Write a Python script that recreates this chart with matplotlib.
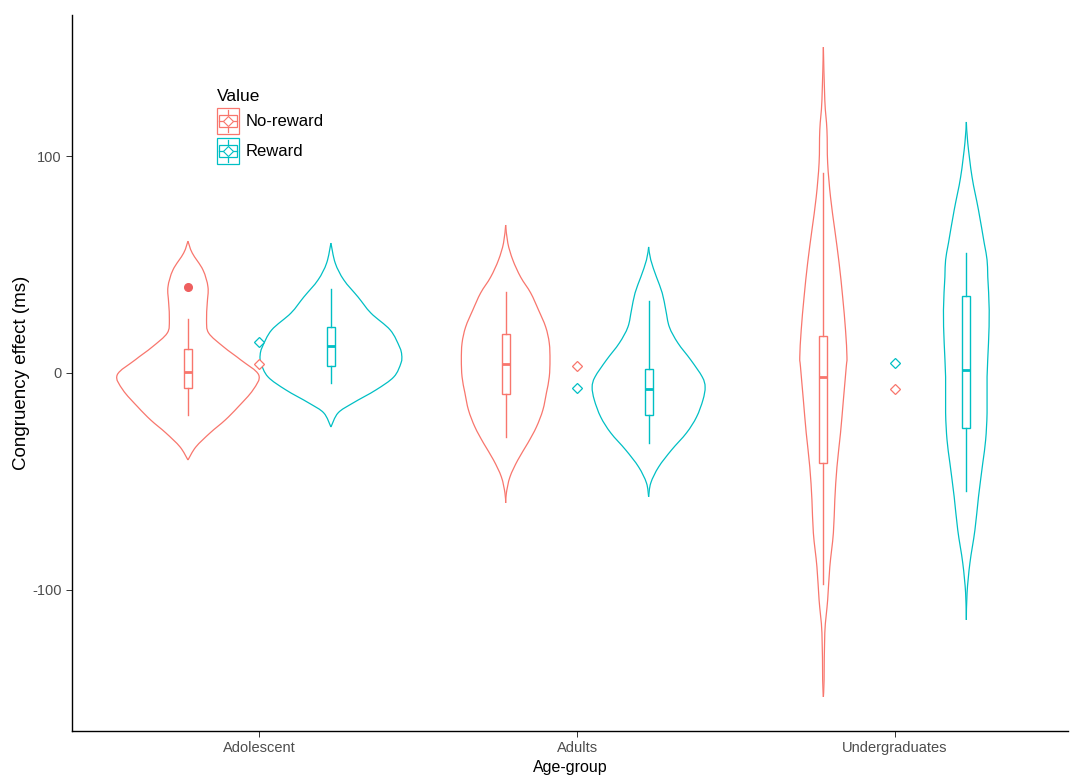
import matplotlib
matplotlib.use("Agg")
import matplotlib.pyplot as plt
import numpy as np
from matplotlib.patches import Rectangle, Patch, PathPatch
from matplotlib.path import Path
from matplotlib.lines import Line2D
from matplotlib.legend_handler import HandlerBase

plt.rcParams['font.family'] = ['Liberation Sans', 'DejaVu Sans']

groups = ["Adolescent", "Adults", "Undergraduates"]
values = ["No-reward", "Reward"]
colors = {"No-reward": "#F8766D", "Reward": "#00BFC4"}

# violin outlines: congruency effect (ms) and relative density at that level
adol_nr_y = [60.8, 55.3, 47.5, 39.6, 32.3, 24.4, 18.4, 12.0, 6.0, -0.9, -7.8, -15.7, -21.7, -27.6, -34.1, -40.1]
adol_nr_d = [0.0, 0.06, 0.21, 0.28, 0.27, 0.26, 0.29, 0.50, 0.74, 0.99, 0.91, 0.70, 0.52, 0.31, 0.11, 0.0]
adol_r_y = [59.9, 50.7, 42.9, 35.0, 27.6, 19.8, 12.0, 8.3, 4.6, -1.8, -7.8, -13.8, -18.4, -24.9]
adol_r_d = [0.0, 0.06, 0.18, 0.38, 0.56, 0.83, 0.96, 0.99, 0.98, 0.88, 0.63, 0.31, 0.10, 0.0]
adu_nr_y = [68.2, 59.9, 52.1, 44.2, 36.9, 29.0, 21.2, 13.8, 6.0, -1.8, -9.2, -17.1, -24.9, -32.3, -40.1, -47.9, -55.3, -59.9]
adu_nr_d = [0.0, 0.03, 0.10, 0.21, 0.35, 0.46, 0.56, 0.61, 0.62, 0.61, 0.57, 0.52, 0.43, 0.31, 0.17, 0.06, 0.01, 0.0]
adu_r_y = [58.1, 52.1, 44.2, 36.9, 29.0, 21.2, 13.8, 6.0, -1.8, -6.5, -12.4, -20.3, -27.6, -35.5, -43.3, -50.7, -57.1]
adu_r_d = [0.0, 0.03, 0.11, 0.19, 0.24, 0.29, 0.41, 0.59, 0.75, 0.79, 0.76, 0.67, 0.53, 0.32, 0.14, 0.03, 0.0]
und_nr_y = [150.2, 125.8, 112.0, 96.8, 81.1, 65.9, 50.7, 35.0, 19.8, 7.4, 2.8, -12.4, -27.6, -43.3, -58.5, -73.7, -89.4, -104.6, -119.8, -141.5, -149.3]
und_nr_d = [0.0, 0.02, 0.05, 0.06, 0.10, 0.16, 0.22, 0.27, 0.31, 0.33, 0.32, 0.28, 0.24, 0.19, 0.16, 0.14, 0.09, 0.06, 0.02, 0.01, 0.0]
und_r_y = [115.7, 106.0, 90.3, 75.1, 59.9, 52.1, 44.2, 29.0, 13.8, -1.8, -18.4, -30.9, -41.5, -57.1, -72.4, -87.6, -101.4, -113.8]
und_r_d = [0.0, 0.02, 0.08, 0.17, 0.25, 0.29, 0.30, 0.32, 0.31, 0.29, 0.29, 0.27, 0.23, 0.17, 0.12, 0.05, 0.01, 0.0]

violins = {
    ("Adolescent", "No-reward"): (adol_nr_y, adol_nr_d),
    ("Adolescent", "Reward"): (adol_r_y, adol_r_d),
    ("Adults", "No-reward"): (adu_nr_y, adu_nr_d),
    ("Adults", "Reward"): (adu_r_y, adu_r_d),
    ("Undergraduates", "No-reward"): (und_nr_y, und_nr_d),
    ("Undergraduates", "Reward"): (und_r_y, und_r_d),
}

# boxplot stats: lower whisker, q1, median, q3, upper whisker
box_lo = [-19.4, -4.6, -29.5, -32.3, -97.2, -54.4]
box_q1 = [-6.9, 3.2, -9.7, -19.4, -41.5, -25.3]
box_med = [0.5, 12.4, 4.1, -7.4, -1.8, 1.4]
box_q3 = [11.1, 21.2, 18.0, 1.8, 17.1, 35.5]
box_hi = [24.9, 38.7, 37.3, 33.2, 92.2, 55.3]
outliers = {("Adolescent", "No-reward"): [39.6]}

# group means (drawn at the group centre)
mean_nr = [4.0, 3.0, -7.4]
mean_r = [14.3, -7.0, 4.6]


def smooth_outline(xs, ys):
    # Catmull-Rom through the outline points, written as cubic Bezier segments
    pts = np.column_stack([xs, ys])
    n = len(pts)
    verts = [pts[0]]
    codes = [Path.MOVETO]
    for i in range(n - 1):
        p0 = pts[i - 1] if i > 0 else pts[i]
        p1, p2 = pts[i], pts[i + 1]
        p3 = pts[i + 2] if i + 2 < n else pts[i + 1]
        verts += [p1 + (p2 - p0) / 6, p2 - (p3 - p1) / 6, p2]
        codes += [Path.CURVE4] * 3
    return Path(verts, codes)


fig = plt.figure(figsize=(10.7, 7.78), dpi=100)
ax = fig.add_axes([72 / 1070, 47 / 778, 996 / 1070, 716 / 778])

dodge = 0.225
half_w = 0.225
box_w = 0.026

k = 0
for gi, g in enumerate(groups):
    xc = gi + 1
    for vi, v in enumerate(values):
        col = colors[v]
        x0 = xc + (dodge if vi else -dodge)
        yy, dd = violins[(g, v)]
        yy = np.array(yy)
        dd = np.array(dd) * half_w
        # left side top to bottom, right side bottom to top
        left = smooth_outline(x0 - dd, yy)
        right = smooth_outline((x0 + dd)[::-1], yy[::-1])
        for p in (left, right):
            ax.add_patch(PathPatch(p, fill=False, edgecolor=col, lw=0.9))

        # boxplot
        ax.plot([x0, x0], [box_lo[k], box_q1[k]], color=col, lw=1.0)
        ax.plot([x0, x0], [box_q3[k], box_hi[k]], color=col, lw=1.0)
        ax.add_patch(Rectangle((x0 - box_w / 2, box_q1[k]), box_w, box_q3[k] - box_q1[k],
                               fill=False, edgecolor=col, lw=1.0))
        ax.plot([x0 - box_w / 2, x0 + box_w / 2], [box_med[k], box_med[k]], color=col, lw=2.0,
                solid_capstyle='butt')
        for o in outliers.get((g, v), []):
            ax.plot(x0, o, 'o', color='#EE5F5F', ms=5.5, mec='#EE5F5F')
        k += 1

    ax.plot(xc, mean_nr[gi], 'D', ms=5.5, mfc='white', mec=colors["No-reward"], mew=0.9)
    ax.plot(xc, mean_r[gi], 'D', ms=5.5, mfc='white', mec=colors["Reward"], mew=0.9)

ax.set_xlim(0.41, 3.545)
ax.set_ylim(-165, 165)
ax.set_xticks([1, 2, 3])
ax.set_xticklabels(groups)
ax.set_yticks([-100, 0, 100])
ax.set_yticklabels(["-100", "0", "100"])
ax.tick_params(colors='#333333', labelcolor='#4D4D4D', labelsize=10.5, length=4, width=0.7)
for s in ['top', 'right']:
    ax.spines[s].set_visible(False)
for s in ['left', 'bottom']:
    ax.spines[s].set_linewidth(1.0)
    ax.spines[s].set_color('black')
ax.set_xlabel("Age-group", fontsize=11.5, labelpad=3)
ax.set_ylabel("Congruency effect (ms)", fontsize=13.5, labelpad=1.5)


class BoxKey(HandlerBase):
    def create_artists(self, legend, orig, xd, yd, w, h, fontsize, trans):
        col = orig.get_edgecolor()
        x0, y0 = -xd, -yd
        arts = [Rectangle((x0, y0), w, h, fill=False, ec=col, lw=0.9, transform=trans)]
        arts.append(Rectangle((x0 + 0.08 * w, y0 + 0.25 * h), 0.84 * w, 0.5 * h,
                              fill=False, ec=col, lw=0.9, transform=trans))
        cx = x0 + w / 2
        arts.append(Line2D([cx, cx], [y0 + 0.08 * h, y0 + 0.25 * h], color=col, lw=0.9, transform=trans))
        arts.append(Line2D([cx, cx], [y0 + 0.75 * h, y0 + 0.92 * h], color=col, lw=0.9, transform=trans))
        arts.append(Line2D([x0 + 0.08 * w, x0 + 0.92 * w], [y0 + h / 2, y0 + h / 2],
                           color=col, lw=0.9, transform=trans))
        arts.append(Line2D([cx], [y0 + h / 2], marker='D', ms=5, mfc='white', mec=col, mew=0.8,
                           transform=trans))
        return arts


handles = [Patch(facecolor='none', edgecolor=colors[v]) for v in values]
leg = fig.legend(handles, values, loc='upper left', bbox_to_anchor=(217 / 1070, 1 - 89 / 778),
                 frameon=False, title="Value", title_fontsize=12.5, fontsize=12,
                 handler_map={Patch: BoxKey()}, handlelength=1.3, handleheight=2.0,
                 labelspacing=0.25, handletextpad=0.4, borderpad=0, borderaxespad=0,
                 alignment='left')

fig.savefig("out.png", dpi=100)
